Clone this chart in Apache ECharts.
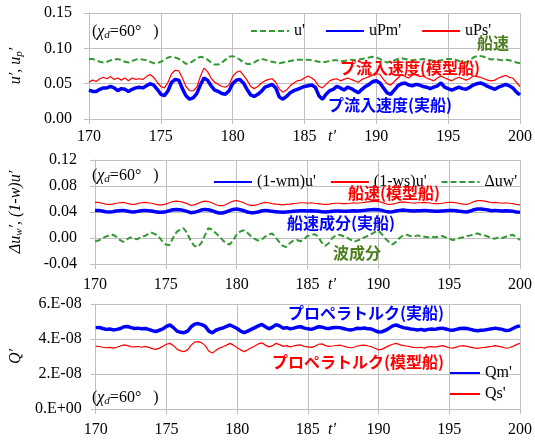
<!DOCTYPE html>
<html><head><meta charset="utf-8">
<script src="https://cdn.jsdelivr.net/npm/echarts@6/dist/echarts.min.js"></script>
<style>html,body{margin:0;padding:0;background:#fff}#c{width:535px;height:441px}</style>
</head><body><div id="c"></div>
<script>
// sampling of t' (0.25 step from 170 to 200)
const tStart = 170, tStep = 0.25;

// ---- top panel: u', uPm', uPs'
const uPrime = [
0.085,0.085,0.083,0.081,0.080,0.081,0.083,0.084,
0.085,0.083,0.081,0.080,0.082,0.084,0.085,0.084,
0.083,0.081,0.079,0.079,0.081,0.084,0.087,0.088,
0.087,0.085,0.082,0.078,0.079,0.082,0.086,0.088,
0.087,0.084,0.080,0.077,0.077,0.080,0.084,0.088,
0.089,0.087,0.084,0.080,0.078,0.078,0.080,0.083,
0.085,0.084,0.082,0.081,0.080,0.079,0.080,0.081,
0.082,0.083,0.084,0.084,0.083,0.084,0.083,0.082,
0.081,0.080,0.081,0.082,0.083,0.083,0.082,0.082,
0.083,0.084,0.083,0.084,0.085,0.086,0.087,0.088,
0.087,0.085,0.082,0.080,0.081,0.083,0.085,0.086,
0.085,0.084,0.083,0.084,0.084,0.085,0.084,0.083,
0.082,0.082,0.083,0.084,0.085,0.085,0.084,0.082,
0.081,0.080,0.083,0.087,0.089,0.089,0.088,0.086,
0.084,0.085,0.084,0.083,0.084,0.083,0.082,0.080,
0.079];
const uPm = [
0.041,0.039,0.039,0.042,0.044,0.044,0.046,0.044,
0.040,0.043,0.042,0.039,0.042,0.044,0.045,0.044,
0.047,0.050,0.048,0.042,0.035,0.033,0.040,0.052,
0.056,0.055,0.043,0.033,0.028,0.030,0.036,0.048,
0.058,0.055,0.047,0.041,0.039,0.036,0.035,0.040,
0.050,0.055,0.056,0.051,0.042,0.034,0.032,0.035,
0.039,0.045,0.047,0.049,0.044,0.031,0.028,0.032,
0.037,0.040,0.042,0.044,0.046,0.047,0.048,0.045,
0.033,0.028,0.035,0.040,0.042,0.046,0.044,0.041,
0.045,0.043,0.040,0.037,0.042,0.046,0.049,0.053,
0.054,0.051,0.044,0.037,0.035,0.041,0.047,0.050,
0.051,0.048,0.047,0.049,0.048,0.046,0.045,0.043,
0.045,0.047,0.051,0.045,0.043,0.041,0.043,0.045,
0.043,0.042,0.045,0.048,0.050,0.051,0.049,0.046,
0.044,0.042,0.045,0.047,0.049,0.047,0.044,0.038,
0.034];
const uPs = [
0.052,0.055,0.053,0.057,0.059,0.057,0.060,0.056,
0.058,0.055,0.058,0.054,0.058,0.056,0.057,0.056,
0.060,0.063,0.059,0.052,0.046,0.044,0.052,0.064,
0.069,0.068,0.058,0.046,0.040,0.040,0.045,0.060,
0.072,0.067,0.058,0.052,0.049,0.046,0.045,0.048,
0.060,0.066,0.068,0.062,0.055,0.046,0.043,0.046,
0.051,0.054,0.056,0.057,0.052,0.042,0.038,0.041,
0.047,0.051,0.054,0.055,0.058,0.061,0.058,0.054,
0.046,0.044,0.049,0.054,0.056,0.057,0.054,0.056,
0.058,0.056,0.054,0.052,0.056,0.058,0.060,0.062,
0.064,0.063,0.056,0.050,0.048,0.053,0.058,0.063,
0.060,0.058,0.062,0.063,0.060,0.061,0.058,0.056,
0.054,0.058,0.061,0.058,0.056,0.054,0.057,0.059,
0.057,0.055,0.057,0.061,0.060,0.059,0.057,0.055,
0.054,0.055,0.058,0.060,0.062,0.059,0.058,0.052,
0.046];

// ---- middle panel: (1-wm)u', (1-ws)u', Δuw'
const wmU = [
0.0425,0.0425,0.0415,0.0405,0.0400,0.0405,0.0415,0.0420,
0.0425,0.0415,0.0405,0.0400,0.0410,0.0420,0.0425,0.0420,
0.0415,0.0405,0.0395,0.0395,0.0405,0.0420,0.0435,0.0440,
0.0435,0.0425,0.0410,0.0390,0.0395,0.0410,0.0430,0.0440,
0.0435,0.0420,0.0400,0.0385,0.0385,0.0400,0.0420,0.0440,
0.0445,0.0435,0.0420,0.0400,0.0390,0.0390,0.0400,0.0415,
0.0425,0.0420,0.0410,0.0405,0.0400,0.0395,0.0400,0.0405,
0.0410,0.0415,0.0420,0.0420,0.0415,0.0420,0.0415,0.0410,
0.0405,0.0400,0.0405,0.0410,0.0415,0.0415,0.0410,0.0410,
0.0415,0.0420,0.0415,0.0420,0.0425,0.0430,0.0435,0.0440,
0.0435,0.0425,0.0410,0.0400,0.0405,0.0415,0.0425,0.0430,
0.0425,0.0420,0.0415,0.0420,0.0420,0.0425,0.0420,0.0415,
0.0410,0.0410,0.0415,0.0420,0.0425,0.0425,0.0420,0.0410,
0.0405,0.0400,0.0415,0.0435,0.0445,0.0445,0.0440,0.0430,
0.0420,0.0425,0.0420,0.0415,0.0420,0.0415,0.0410,0.0400,
0.0395];
const wsU = [
0.0548,0.0548,0.0535,0.0522,0.0516,0.0522,0.0535,0.0542,
0.0548,0.0535,0.0522,0.0516,0.0529,0.0542,0.0548,0.0542,
0.0535,0.0522,0.0510,0.0510,0.0522,0.0542,0.0561,0.0568,
0.0561,0.0548,0.0529,0.0503,0.0510,0.0529,0.0555,0.0568,
0.0561,0.0542,0.0516,0.0497,0.0497,0.0516,0.0542,0.0568,
0.0574,0.0561,0.0542,0.0516,0.0503,0.0503,0.0516,0.0535,
0.0548,0.0542,0.0529,0.0522,0.0516,0.0510,0.0516,0.0522,
0.0529,0.0535,0.0542,0.0542,0.0535,0.0542,0.0535,0.0529,
0.0522,0.0516,0.0522,0.0529,0.0535,0.0535,0.0529,0.0529,
0.0535,0.0542,0.0535,0.0542,0.0548,0.0555,0.0561,0.0568,
0.0561,0.0548,0.0529,0.0516,0.0522,0.0535,0.0548,0.0555,
0.0548,0.0542,0.0535,0.0542,0.0542,0.0548,0.0542,0.0535,
0.0529,0.0529,0.0535,0.0542,0.0548,0.0548,0.0542,0.0529,
0.0522,0.0516,0.0535,0.0561,0.0574,0.0574,0.0568,0.0555,
0.0542,0.0548,0.0542,0.0535,0.0542,0.0535,0.0529,0.0516,
0.0510];
const dUw = [
-0.005,-0.004,-0.001,0.002,0.004,0.005,0.002,-0.003,
-0.006,-0.002,0.001,-0.001,-0.002,0.002,0.003,0.006,
0.008,0.006,0.002,-0.005,-0.010,-0.011,0.000,0.009,
0.013,0.015,0.008,-0.004,-0.012,-0.014,-0.008,0.004,
0.015,0.013,0.008,0.003,-0.003,-0.008,-0.010,-0.004,
0.006,0.010,0.012,0.008,0.003,-0.001,-0.004,-0.003,
0.002,0.005,0.007,0.001,-0.006,-0.012,-0.014,-0.008,
-0.004,-0.003,-0.005,-0.002,0.003,0.004,0.006,0.002,
-0.007,-0.012,-0.008,0.000,0.004,0.005,0.003,0.001,
-0.002,-0.006,-0.004,-0.002,0.001,0.003,0.006,0.009,
0.011,0.006,-0.001,-0.006,-0.010,-0.006,0.000,0.004,
0.005,0.003,0.002,0.004,0.003,0.002,0.001,0.002,
0.001,0.002,0.003,0.001,-0.001,-0.003,-0.002,0.000,
0.001,0.003,0.004,0.006,0.007,0.005,0.004,0.002,
0.000,-0.001,0.001,0.000,0.002,0.004,0.005,0.001,
-0.003];

// ---- bottom panel: Qm', Qs'
const Qm = [
4.65e-8,4.66e-8,4.60e-8,4.55e-8,4.57e-8,4.52e-8,4.55e-8,4.60e-8,
4.70e-8,4.72e-8,4.65e-8,4.60e-8,4.62e-8,4.58e-8,4.60e-8,4.55e-8,
4.48e-8,4.43e-8,4.50e-8,4.58e-8,4.72e-8,4.80e-8,4.65e-8,4.45e-8,
4.38e-8,4.36e-8,4.45e-8,4.70e-8,4.85e-8,4.88e-8,4.82e-8,4.72e-8,
4.45e-8,4.35e-8,4.50e-8,4.58e-8,4.63e-8,4.72e-8,4.80e-8,4.70e-8,
4.60e-8,4.45e-8,4.36e-8,4.45e-8,4.55e-8,4.65e-8,4.75e-8,4.83e-8,
4.70e-8,4.58e-8,4.68e-8,4.82e-8,4.75e-8,4.62e-8,4.65e-8,4.58e-8,
4.62e-8,4.68e-8,4.70e-8,4.62e-8,4.58e-8,4.55e-8,4.62e-8,4.70e-8,
4.68e-8,4.62e-8,4.60e-8,4.64e-8,4.66e-8,4.65e-8,4.60e-8,4.55e-8,
4.52e-8,4.55e-8,4.62e-8,4.60e-8,4.63e-8,4.58e-8,4.57e-8,4.48e-8,
4.40e-8,4.42e-8,4.50e-8,4.62e-8,4.75e-8,4.80e-8,4.72e-8,4.65e-8,
4.62e-8,4.57e-8,4.55e-8,4.52e-8,4.55e-8,4.50e-8,4.55e-8,4.57e-8,
4.55e-8,4.60e-8,4.62e-8,4.57e-8,4.52e-8,4.50e-8,4.55e-8,4.60e-8,
4.62e-8,4.60e-8,4.55e-8,4.50e-8,4.47e-8,4.50e-8,4.52e-8,4.55e-8,
4.58e-8,4.62e-8,4.58e-8,4.55e-8,4.48e-8,4.50e-8,4.60e-8,4.70e-8,
4.75e-8];
const Qs = [
3.58e-8,3.57e-8,3.53e-8,3.50e-8,3.52e-8,3.48e-8,3.53e-8,3.60e-8,
3.66e-8,3.62e-8,3.56e-8,3.55e-8,3.57e-8,3.53e-8,3.58e-8,3.52e-8,
3.45e-8,3.41e-8,3.48e-8,3.58e-8,3.70e-8,3.75e-8,3.62e-8,3.42e-8,
3.32e-8,3.28e-8,3.38e-8,3.65e-8,3.83e-8,3.85e-8,3.78e-8,3.62e-8,
3.30e-8,3.20e-8,3.35e-8,3.48e-8,3.56e-8,3.65e-8,3.75e-8,3.65e-8,
3.50e-8,3.38e-8,3.28e-8,3.38e-8,3.50e-8,3.60e-8,3.72e-8,3.78e-8,
3.65e-8,3.55e-8,3.62e-8,3.75e-8,3.68e-8,3.58e-8,3.62e-8,3.55e-8,
3.60e-8,3.65e-8,3.66e-8,3.58e-8,3.55e-8,3.52e-8,3.58e-8,3.70e-8,
3.72e-8,3.62e-8,3.58e-8,3.60e-8,3.63e-8,3.65e-8,3.60e-8,3.54e-8,
3.50e-8,3.53e-8,3.60e-8,3.64e-8,3.65e-8,3.60e-8,3.56e-8,3.47e-8,
3.38e-8,3.42e-8,3.52e-8,3.62e-8,3.70e-8,3.75e-8,3.68e-8,3.62e-8,
3.60e-8,3.55e-8,3.52e-8,3.50e-8,3.53e-8,3.48e-8,3.55e-8,3.56e-8,
3.54e-8,3.58e-8,3.62e-8,3.56e-8,3.50e-8,3.48e-8,3.54e-8,3.60e-8,
3.62e-8,3.58e-8,3.54e-8,3.49e-8,3.46e-8,3.50e-8,3.52e-8,3.55e-8,
3.58e-8,3.62e-8,3.58e-8,3.54e-8,3.47e-8,3.50e-8,3.58e-8,3.68e-8,
3.76e-8];

// tick labels
const xTickLabels = ['170','175','180','185','190','195','200'];
const yTopLabels = ['0.00','0.05','0.10','0.15'];
const yMidLabels = ['-0.04','0.00','0.04','0.08','0.12'];
const yBotLabels = ['0.E+00','2.E-08','4.E-08','6.E-08'];

const times = uPrime.map((_, i) => tStart + i * tStep);
const pts = arr => arr.map((v, i) => [times[i], v]);

const SERIF = 'Liberation Serif';
const CJK = 'Noto Sans CJK JP';
const GRID = '#bfbfbf';
const BLUE = '#0000ff', RED = '#ff0000', GREEN = '#339933', OLIVE = '#4e7f1f';

function xAx(g, margin) {
  return {
    type: 'value', gridIndex: g, min: 170, max: 200, interval: 5,
    axisLine: { show: true, onZero: false, lineStyle: { color: GRID, width: 1 } },
    axisTick: { show: true, inside: false, length: 5, lineStyle: { color: GRID } },
    axisLabel: { color: '#000', fontFamily: SERIF, fontSize: 16, margin: margin,
      formatter: v => xTickLabels[Math.round((v - 170) / 5)] },
    splitLine: { show: true, lineStyle: { color: GRID, width: 1 } }
  };
}
function yAx(g, min, max, interval, labels, margin, name, nameGap) {
  return {
    type: 'value', gridIndex: g, min: min, max: max, interval: interval,
    axisLine: { show: true, lineStyle: { color: GRID, width: 1 } },
    axisTick: { show: true, inside: false, length: 5, lineStyle: { color: GRID } },
    axisLabel: { color: '#000', fontFamily: SERIF, fontSize: 16, margin: margin,
      formatter: v => labels[Math.round((v - min) / interval)] },
    splitLine: { show: true, lineStyle: { color: GRID, width: 1 } },
    name: name, nameLocation: 'middle', nameGap: nameGap, nameRotate: 90,
    nameTextStyle: {
      color: '#000', fontFamily: SERIF, fontSize: 16,
      rich: {
        i: { fontFamily: SERIF, fontStyle: 'italic', fontSize: 16, color: '#000' },
        s: { fontFamily: SERIF, fontStyle: 'italic', fontSize: 11, color: '#000', padding: [7, 0, 0, 0] }
      }
    }
  };
}
function line(name, data, xi, color, width, dashed, z) {
  return {
    name: name, type: 'line', xAxisIndex: xi, yAxisIndex: xi, data: pts(data),
    symbol: 'none', showSymbol: false, z: z || 2,
    lineStyle: { color: color, width: width, type: dashed ? [6, 3] : 'solid' },
    itemStyle: { color: color }
  };
}
function chiLabel(x, y) {
  return {
    type: 'text', x: x, y: y, z: 100,
    style: {
      text: '{a|(}{i|χ}{s|d}{a|=60°   )}',
      textVerticalAlign: 'middle', verticalAlign: 'middle',
      rich: {
        a: { fontFamily: SERIF, fontSize: 16, fill: '#000', color: '#000' },
        i: { fontFamily: SERIF, fontSize: 16, fontStyle: 'italic', fill: '#000', color: '#000' },
        s: { fontFamily: SERIF, fontSize: 11, fontStyle: 'italic', fill: '#000', color: '#000', padding: [7, 0, 0, 0] }
      }
    }
  };
}
function jp(text, x, y, color) {
  return {
    type: 'text', x: x, y: y, z: 100,
    style: { text: text, fill: color, font: 'bold 16px "' + CJK + '"',
      textVerticalAlign: 'middle', verticalAlign: 'middle' }
  };
}
function tLabel(y) {
  return {
    type: 'text', x: 332, y: y, z: 100,
    style: { text: 't′', fill: '#000', font: 'italic 16px "' + SERIF + '"',
      textAlign: 'center', align: 'center', textVerticalAlign: 'middle', verticalAlign: 'middle' }
  };
}

const legendText = { fontFamily: SERIF, fontSize: 16, color: '#000' };
const legendBase = { itemHeight: 12, textStyle: legendText, itemStyle: { opacity: 0, borderWidth: 0 } };

const option = {
  animation: false,
  backgroundColor: '#fff',
  grid: [
    { left: 89, right: 14, top: 13, height: 106 },
    { left: 89, right: 14, top: 160, height: 104 },
    { left: 89, right: 14, top: 304, height: 105 }
  ],
  xAxis: [xAx(0, 10), xAx(1, 13), xAx(2, 13)],
  yAxis: [
    yAx(0, 0, 0.15, 0.05, yTopLabels, 17, '{i|u′, u}{s|p}{i|′}', 64),
    yAx(1, -0.04, 0.12, 0.04, yMidLabels, 18, '{i|Δu}{s|w}{i|′, (1-w)u′}', 70),
    yAx(2, 0, 6e-8, 2e-8, yBotLabels, 14, '{i|Q′}', 70)
  ],
  legend: [
    Object.assign({ left: 245, top: 18, itemWidth: 38, itemGap: 20, data: ["u'", "uPm'", "uPs'"] }, legendBase),
    Object.assign({ left: 208, top: 169, itemWidth: 38, itemGap: 14, data: ["(1-wm)u'", "(1-ws)u'", "Δuw'"] }, legendBase),
    Object.assign({ left: 444, top: 360, orient: 'vertical', itemWidth: 30, itemGap: 5, data: ["Qm'", "Qs'"] }, legendBase)
  ],
  series: [
    line("u'", uPrime, 0, GREEN, 2, true, 2),
    line("uPm'", uPm, 0, BLUE, 3.5, false, 3),
    line("uPs'", uPs, 0, RED, 1.2, false, 4),
    line("(1-wm)u'", wmU, 1, BLUE, 3.5, false, 3),
    line("(1-ws)u'", wsU, 1, RED, 1.2, false, 4),
    line("Δuw'", dUw, 1, GREEN, 2, true, 2),
    line("Qm'", Qm, 2, BLUE, 3.5, false, 3),
    line("Qs'", Qs, 2, RED, 1.2, false, 4)
  ],
  graphic: [
    chiLabel(92, 32), chiLabel(92, 176), chiLabel(92, 398),
    tLabel(137), tLabel(285), tLabel(430),
    jp('船速', 477, 43, OLIVE),
    jp('プ流入速度(模型船)', 340, 68, RED),
    jp('プ流入速度(実船)', 328, 105, BLUE),
    jp('船速(模型船)', 348, 193, RED),
    jp('船速成分(実船)', 287, 223, BLUE),
    jp('波成分', 333, 253, OLIVE),
    jp('プロペラトルク(実船)', 288, 313, BLUE),
    jp('プロペラトルク(模型船)', 272, 362, RED)
  ]
};
const chart = echarts.init(document.getElementById('c'), null, { renderer: 'canvas' });
chart.setOption(option);
</script></body></html>
